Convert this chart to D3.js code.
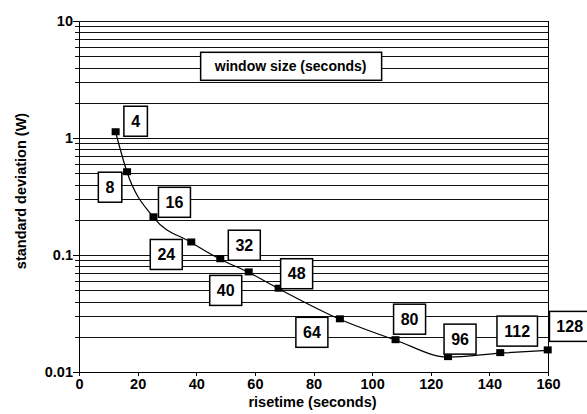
<!DOCTYPE html>
<html lang="en">
<head>
    <meta charset="UTF-8">
    <title>Risetime vs standard deviation</title>
    <script src="https://cdn.jsdelivr.net/npm/d3@7"></script>
    <style>
        body { margin: 0; background: #fff; }
        svg { display: block; font-family: "Liberation Sans", Arial, sans-serif; }
        .grid line { stroke: #111; stroke-width: 1px; shape-rendering: crispEdges; }
        .axis path, .axis line { stroke: #000; shape-rendering: crispEdges; }
        .axis text { font-size: 14.5px; font-weight: bold; fill: #000; }
        .title { font-size: 14.5px; font-weight: bold; }
        .tag rect { fill: #fff; stroke: #000; stroke-width: 1.5px; }
        .tag text { font-size: 16px; font-weight: bold; }
    </style>
</head>
<body>
<div id="chart"></div>
<script>
    // window size (seconds) for each point
    const windowSizes = [4, 8, 16, 24, 32, 40, 48, 64, 80, 96, 112, 128];
    // risetime (seconds)
    const risetimes = [12.5, 16.4, 25.4, 38.3, 48.2, 57.9, 68.1, 89, 108, 125.9, 143.7, 159.9];
    // standard deviation (W)
    const stdDevs = [1.12, 0.51, 0.21, 0.128, 0.092, 0.071, 0.0515, 0.0282, 0.0187, 0.0134, 0.0145, 0.0153];

    const xTicks = [0, 20, 40, 60, 80, 100, 120, 140, 160];
    const yTicks = [0.01, 0.1, 1, 10];
    const yTickLabels = ["0.01", "0.1", "1", "10"];

    // where each label box sits relative to its point (pixels)
    const labelOffsets = [[20, -11], [-17, 15], [21, -15], [-25, 12], [24, -14], [-23, 18],
        [18, -15], [-28, 13], [14, -21], [12, -18], [17, -22], [22, -24]];

    const width = 587;
    const height = 414;
    const margin = {top: 21, right: 39, bottom: 42, left: 79};

    const svg = d3.select("#chart").append("svg")
        .attr("width", width)
        .attr("height", height);

    const x = d3.scaleLinear().domain([0, 160]).range([margin.left, width - margin.right]);
    const y = d3.scaleLog().domain([0.01, 10]).range([height - margin.bottom, margin.top]);

    // every 1..9 x decade gets a grid line
    const gridValues = [];
    [0.01, 0.1, 1].forEach(function (decade) {
        for (let k = 1; k <= 9; k++) gridValues.push(decade * k);
    });
    gridValues.push(10);

    svg.append("g").attr("class", "grid")
        .selectAll("line")
        .data(gridValues)
        .join("line")
        .attr("x1", margin.left - 4)
        .attr("x2", width - margin.right)
        .attr("y1", function (d) { return Math.round(y(d)) + 0.5; })
        .attr("y2", function (d) { return Math.round(y(d)) + 0.5; });

    // right border
    svg.append("line")
        .attr("x1", width - margin.right + 0.5).attr("x2", width - margin.right + 0.5)
        .attr("y1", margin.top).attr("y2", height - margin.bottom)
        .attr("stroke", "#000");

    const xAxis = svg.append("g").attr("class", "axis")
        .attr("transform", "translate(0," + (height - margin.bottom) + ")")
        .call(d3.axisBottom(x).tickValues(xTicks).tickSize(4).tickSizeOuter(0));
    xAxis.selectAll("text").attr("y", 7);

    const yAxis = svg.append("g").attr("class", "axis")
        .attr("transform", "translate(" + margin.left + ",0)")
        .call(d3.axisLeft(y).tickValues(yTicks).tickSize(6).tickSizeOuter(0)
            .tickFormat(function (d, i) { return yTickLabels[i]; }));
    yAxis.selectAll("text").attr("x", -6);

    svg.append("text").attr("class", "title")
        .attr("x", x(80) - 1)
        .attr("y", 407)
        .attr("text-anchor", "middle")
        .text("risetime (seconds)");

    svg.append("text").attr("class", "title")
        .attr("transform", "translate(26,191) rotate(-90)")
        .attr("text-anchor", "middle")
        .text("standard deviation (W)");

    const points = windowSizes.map(function (w, i) {
        return {size: w, x: risetimes[i], y: stdDevs[i], off: labelOffsets[i]};
    });

    svg.append("path")
        .datum(points)
        .attr("fill", "none")
        .attr("stroke", "#000")
        .attr("stroke-width", 1.2)
        .attr("d", d3.line()
            .x(function (d) { return x(d.x); })
            .y(function (d) { return y(d.y); })
            .curve(d3.curveMonotoneX));

    svg.selectAll("rect.marker")
        .data(points)
        .join("rect")
        .attr("class", "marker")
        .attr("x", function (d) { return x(d.x) - 4; })
        .attr("y", function (d) { return y(d.y) - 4; })
        .attr("width", 8)
        .attr("height", 7)
        .attr("fill", "#000");

    function boxWidth(d) {
        return String(d.size).length * 8.5 + 15;
    }

    // numbered label boxes
    const tags = svg.selectAll("g.tag")
        .data(points)
        .join("g")
        .attr("class", "tag")
        .attr("transform", function (d) {
            return "translate(" + (x(d.x) + d.off[0]) + "," + (y(d.y) + d.off[1]) + ")";
        });
    tags.append("rect")
        .attr("x", function (d) { return -boxWidth(d) / 2; })
        .attr("y", -15)
        .attr("width", boxWidth)
        .attr("height", 30);
    tags.append("text")
        .attr("text-anchor", "middle")
        .attr("dy", "0.36em")
        .text(function (d) { return d.size; });

    // heading box
    const head = svg.append("g").attr("class", "tag")
        .attr("transform", "translate(" + x(72.2) + "," + y(4.1) + ")");
    head.append("rect").attr("x", -90).attr("y", -14).attr("width", 181).attr("height", 28);
    head.append("text").attr("text-anchor", "middle").attr("dy", "0.36em")
        .style("font-size", "14px")
        .text("window size (seconds)");
</script>
</body>
</html>
